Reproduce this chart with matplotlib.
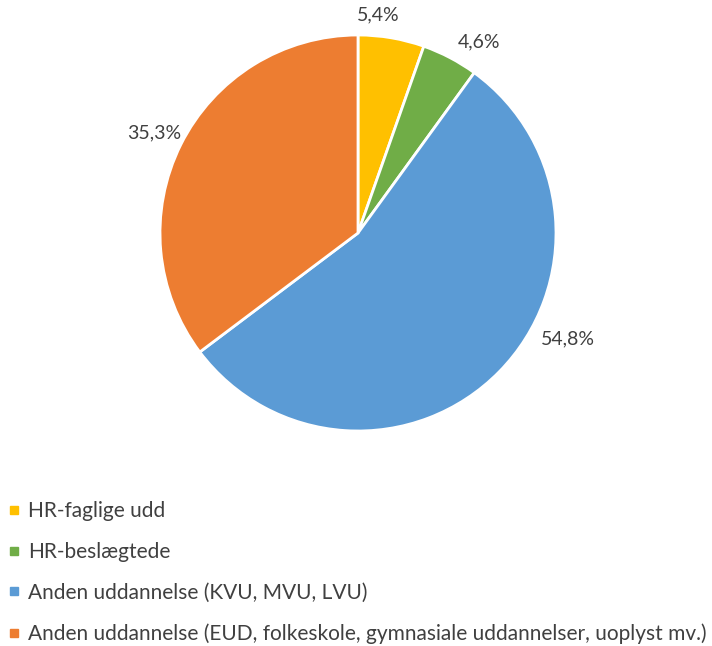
import matplotlib.pyplot as plt
from matplotlib.lines import Line2D

# data
kategorier = ["HR-faglige udd",
              "HR-beslægtede",
              "Anden uddannelse (KVU, MVU, LVU)",
              "Anden uddannelse (EUD, folkeskole, gymnasiale uddannelser, uoplyst mv.)"]
andele = [5.4, 4.6, 54.8, 35.3]
etiketter = ["5,4%", "4,6%", "54,8%", "35,3%"]
farver = ["#FFC000", "#70AD47", "#5B9BD5", "#ED7D31"]

# label placement (pie units, radius = 1)
label_pos = [(0.10, 1.10), (0.61, 0.965), (1.06, -0.535), (-1.03, 0.505)]

plt.rcParams['font.family'] = ['Lato', 'DejaVu Sans']
tekstfarve = "#404040"

fig = plt.figure(figsize=(7.12, 6.46), dpi=100)
ax = fig.add_axes([160/712, 1 - 431/646, 396/712, 396/646])
wedges, _ = ax.pie(andele, colors=farver, startangle=90, counterclock=False,
                   wedgeprops=dict(edgecolor="white", linewidth=2))
ax.set_aspect("equal")
ax.set_xlim(-1, 1)
ax.set_ylim(-1, 1)

for txt, (x, y) in zip(etiketter, label_pos):
    ax.text(x, y, txt, ha="center", va="center", fontsize=14,
            color=tekstfarve, clip_on=False)

handles = [Line2D([], [], marker="s", linestyle="", markersize=6,
                  markerfacecolor=c, markeredgecolor=c) for c in farver]
fig.legend(handles, kategorier, loc="upper left",
           bbox_to_anchor=(8/712, 1 - 501/646), frameon=False,
           fontsize=15, labelcolor=tekstfarve, handlelength=0.55,
           handletextpad=0.4, labelspacing=1.0, borderpad=0,
           borderaxespad=0)

fig.savefig("out.png", dpi=100)
